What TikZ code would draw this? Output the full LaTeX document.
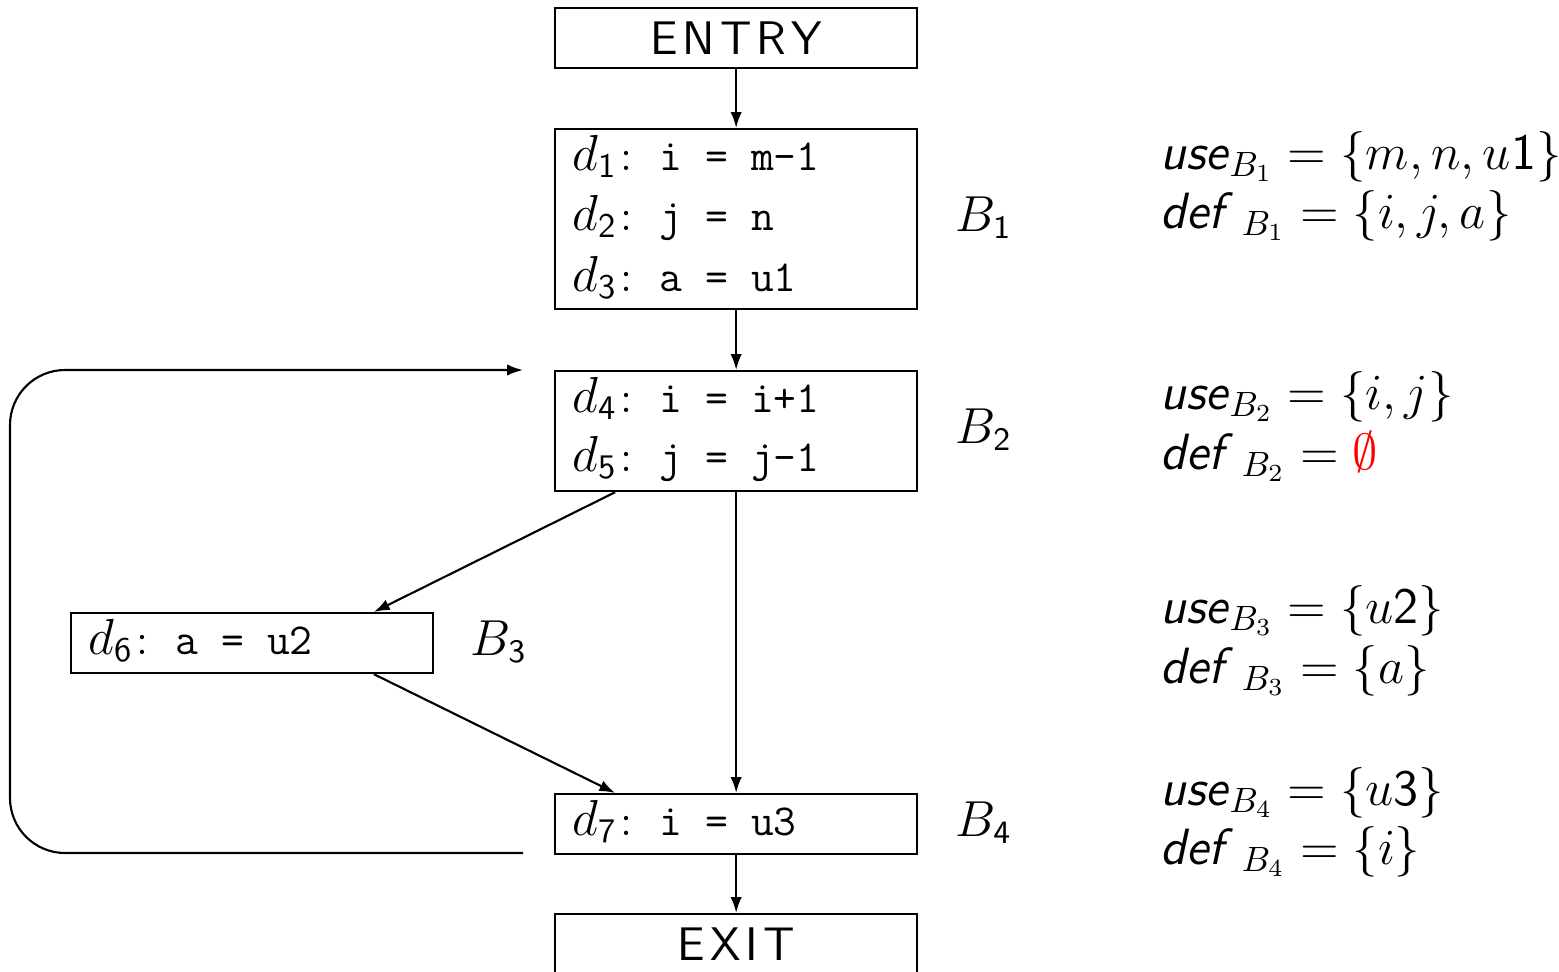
\documentclass[tikz,border=0pt]{standalone}
\usepackage{amsmath}
\usepackage{fontspec}
\usetikzlibrary{arrows.meta,calc}
\newcommand{\ls}{\kern1.4pt}
\newcommand{\sd}[1]{\textsf{#1}}
\newcommand{\dv}[1]{{\fontsize{14}{16}\selectfont$d_{\sd{#1}}$}\kern1pt:\kern7.6pt}
\newcommand{\cd}[1]{\texttt{#1}}
\begin{document}
\begin{tikzpicture}[x=0.01cm,y=-0.01cm,
  every node/.style={inner sep=0pt},
  blk/.style={draw, line width=0.6pt, minimum width=3.62cm, anchor=north west,
    font=\fontsize{13.4}{16}\selectfont\sffamily},
  code/.style={anchor=base west, font=\fontsize{12.6}{15}\selectfont},
  lbl/.style={anchor=base west, font=\fontsize{13.3}{16}\selectfont},
  set/.style={anchor=base west, font=\fontsize{14.5}{18}\selectfont\sffamily},
  arr/.style={line width=0.6pt, -{Latex[length=4.5pt,width=3.2pt]}}]
\clip (0,0) rectangle (1559,972);
% blocks
\node[blk, minimum height=0.6cm] (entry) at (554,7) {E\ls N\ls T\ls R\ls Y};
\node[blk, minimum height=1.8cm] (b1) at (554,128) {};
\node[blk, minimum height=1.2cm] (b2) at (554,370) {};
\node[blk, minimum height=0.6cm] (b3) at (70,612) {};
\node[blk, minimum height=0.6cm] (b4) at (554,793) {};
\node[blk, minimum height=0.6cm] (exit) at (554,913) {E\ls X\ls I\ls T};
% block contents
\node[code] (s1) at (572,170) {\dv{1}\cd{i = m-1}};
\node[code] (s2) at (572,230) {\dv{2}\cd{j = n}};
\node[code] (s3) at (572,291) {\dv{3}\cd{a = u1}};
\node[code] (s4) at (572,412) {\dv{4}\cd{i = i+1}};
\node[code] (s5) at (572,471) {\dv{5}\cd{j = j-1}};
\node[code] (s6) at (88,654) {\dv{6}\cd{a = u2}};
\node[code] (s7) at (572,835) {\dv{7}\cd{i = u3}};
% block names
\node[lbl] (n1) at (955,231) {$B_{\sd{1}}$};
\node[lbl] (n2) at (955,443) {$B_{\sd{2}}$};
\node[lbl] (n3) at (470,655) {$B_{\sd{3}}$};
\node[lbl] (n4) at (955,836) {$B_{\sd{4}}$};
% use/def sets
\node[set] (u1) at (1160,169) {\textit{use}$_{B_1} = \{m, n, u\sd{1}\}$};
\node[set] (f1) at (1160,228) {\textit{def}\,$_{B_1} = \{i, j, a\}$};
\node[set] (u2) at (1160,409) {\textit{use}$_{B_2} = \{i, j\}$};
\node[set] (f2) at (1160,469) {\textit{def}\,$_{B_2} = {\color{red}\emptyset}$};
\node[set] (u3) at (1160,623) {\textit{use}$_{B_3} = \{u\sd{2}\}$};
\node[set] (f3) at (1160,683) {\textit{def}\,$_{B_3} = \{a\}$};
\node[set] (u4) at (1160,805) {\textit{use}$_{B_4} = \{u\sd{3}\}$};
\node[set] (f4) at (1160,864) {\textit{def}\,$_{B_4} = \{i\}$};
% edges
\draw[arr] (entry) -- (b1);
\draw[arr] (b1) -- (b2);
\draw[arr] ($(b2.south west)!0.168!(b2.south east)$) -- ($(b3.north west)!0.834!(b3.north east)$);
\draw[arr] ($(b3.south west)!0.834!(b3.south east)$) -- ($(b4.north west)!0.168!(b4.north east)$);
\draw[arr] (b2) -- (b4);
\draw[arr] (b4) -- (exit);
\coordinate (ls) at (523,853);
\coordinate (le) at (523,370);
\draw[arr, rounded corners=0.55cm] (ls) -- (10,853) -- (10,370) -- (le);
\end{tikzpicture}
\end{document}
